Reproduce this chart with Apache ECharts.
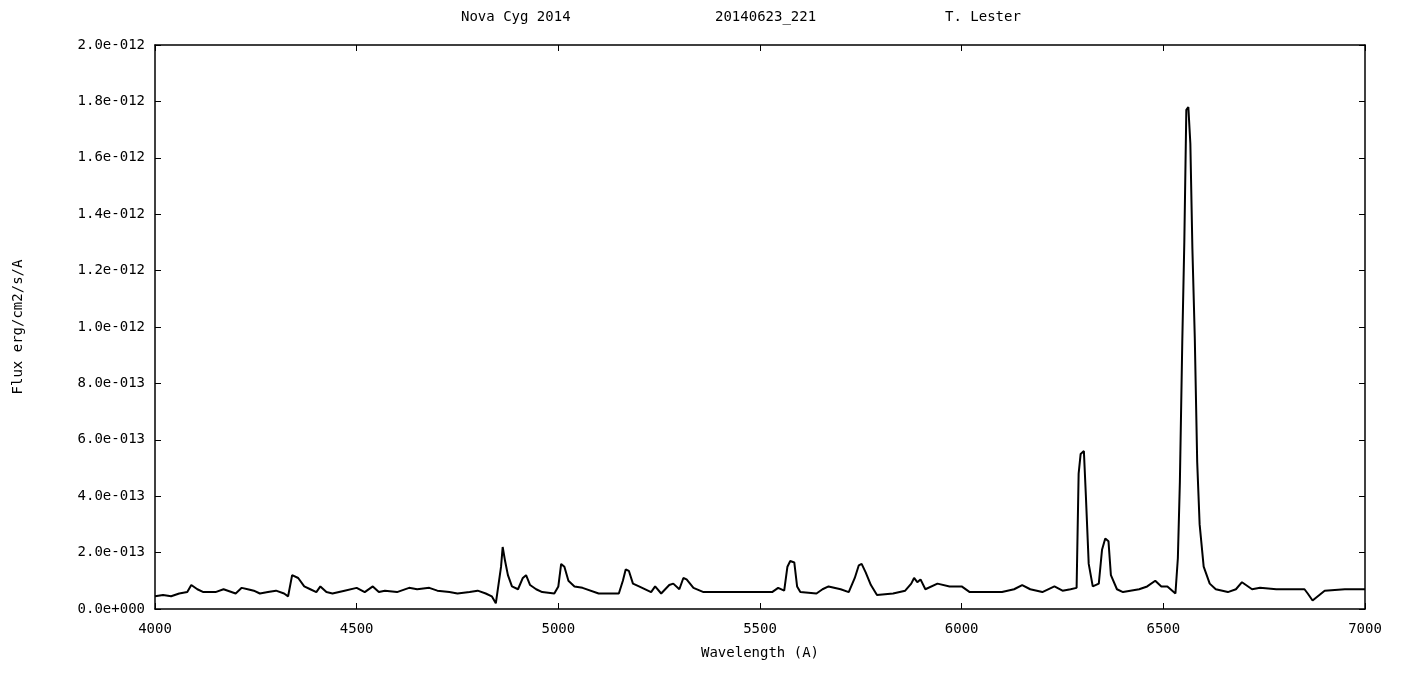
<!DOCTYPE html>
<html>
<head>
<meta charset="utf-8">
<script src="https://cdn.jsdelivr.net/npm/echarts@6/dist/echarts.min.js"></script>
<style>html,body{margin:0;background:#fff}#c{width:1411px;height:686px}</style>
</head>
<body>
<div id="c"></div>
<script>
// wavelength (A) and flux in units of 1e-13 erg/cm2/s/A
const wavelength = [4000,4020,4040,4060,4080,4090,4105,4120,4150,4170,4200,4215,4230,4245,4260,4280,4300,4320,4330,4340,4355,4370,4385,4400,4410,4425,4440,4470,4500,4520,4540,4555,4570,4600,4630,4650,4680,4700,4730,4750,4780,4800,4820,4835,4845,4852,4858,4862,4868,4875,4885,4900,4912,4920,4930,4945,4960,4990,5000,5007,5015,5025,5040,5060,5100,5150,5160,5167,5175,5185,5200,5230,5240,5255,5275,5285,5300,5310,5318,5335,5360,5400,5450,5500,5530,5545,5560,5568,5575,5585,5592,5600,5640,5655,5670,5700,5720,5735,5745,5752,5762,5775,5790,5830,5860,5875,5882,5890,5898,5910,5940,5970,6000,6020,6060,6100,6130,6150,6170,6200,6230,6250,6270,6285,6290,6295,6303,6308,6315,6325,6340,6348,6356,6364,6370,6385,6400,6440,6460,6480,6495,6510,6530,6536,6541,6547,6552,6557,6562,6567,6572,6578,6584,6590,6600,6615,6630,6660,6680,6695,6720,6740,6780,6820,6850,6858,6870,6900,6950,7000];
const flux = [0.45,0.5,0.45,0.55,0.6,0.85,0.7,0.6,0.6,0.7,0.55,0.75,0.7,0.65,0.55,0.6,0.65,0.55,0.45,1.2,1.1,0.8,0.7,0.6,0.8,0.6,0.55,0.65,0.75,0.6,0.8,0.6,0.65,0.6,0.75,0.7,0.75,0.65,0.6,0.55,0.6,0.65,0.55,0.45,0.2,0.9,1.5,2.2,1.7,1.2,0.8,0.7,1.1,1.2,0.85,0.7,0.6,0.55,0.8,1.6,1.5,1.0,0.8,0.75,0.55,0.55,1.0,1.4,1.35,0.9,0.8,0.6,0.8,0.55,0.85,0.9,0.7,1.1,1.05,0.75,0.6,0.6,0.6,0.6,0.6,0.75,0.65,1.5,1.7,1.65,0.8,0.6,0.55,0.7,0.8,0.7,0.6,1.1,1.55,1.6,1.3,0.85,0.5,0.55,0.65,0.9,1.1,0.95,1.05,0.7,0.9,0.8,0.8,0.6,0.6,0.6,0.7,0.85,0.7,0.6,0.8,0.65,0.7,0.75,4.8,5.5,5.6,4.0,1.6,0.8,0.9,2.1,2.5,2.4,1.2,0.7,0.6,0.7,0.8,1.0,0.8,0.8,0.55,1.8,4.5,9.5,13.0,17.7,17.8,16.5,12.8,9.6,5.2,3.0,1.5,0.9,0.7,0.6,0.7,0.95,0.7,0.75,0.7,0.7,0.7,0.55,0.3,0.65,0.7,0.7,0.7];

const xTicks = [4000,4500,5000,5500,6000,6500,7000];
const yTicks = [0,2e-13,4e-13,6e-13,8e-13,1e-12,1.2e-12,1.4e-12,1.6e-12,1.8e-12,2e-12];
const titleParts = ['Nova Cyg 2014', '20140623_221', 'T. Lester'];

const points = wavelength.map((w, i) => [w, flux[i] * 1e-13]);
const FONT = 'DejaVu Sans Mono';

function fmtExp(v) {
  if (Math.abs(v) < 1e-20) return '0.0e+000';
  const e = Math.floor(Math.log10(Math.abs(v)) + 1e-9);
  const m = v / Math.pow(10, e);
  const sign = e < 0 ? '-' : '+';
  return m.toFixed(1) + 'e' + sign + String(Math.abs(e)).padStart(3, '0');
}

const chart = echarts.init(document.getElementById('c'));
const axisLine = { show: true, onZero: false, lineStyle: { color: '#000', width: 1.5 } };
const tickStyle = { show: true, inside: true, length: 6, lineStyle: { color: '#000' } };
const xCommon = { type: 'value', min: 4000, max: 7000, interval: 500, axisLine, axisTick: tickStyle, splitLine: { show: false } };
const yCommon = { type: 'value', min: 0, max: 2e-12, interval: 2e-13, axisLine, axisTick: tickStyle, splitLine: { show: false } };
const labelStyle = { fontFamily: FONT, fontSize: 14, color: '#000' };

chart.setOption({
  animation: false,
  backgroundColor: '#fff',
  grid: { left: 155, right: 46, top: 45, bottom: 77 },
  graphic: [
    { type: 'text', left: 461, top: 10, style: { text: titleParts[0], font: '14px ' + FONT, fill: '#000' } },
    { type: 'text', left: 715, top: 10, style: { text: titleParts[1], font: '14px ' + FONT, fill: '#000' } },
    { type: 'text', left: 945, top: 10, style: { text: titleParts[2], font: '14px ' + FONT, fill: '#000' } }
  ],
  xAxis: [
    Object.assign({}, xCommon, {
      position: 'bottom', name: 'Wavelength (A)', nameLocation: 'middle', nameGap: 37,
      nameTextStyle: labelStyle,
      axisLabel: Object.assign({ margin: 13, formatter: v => String(v) }, labelStyle)
    }),
    Object.assign({}, xCommon, { position: 'top', axisLabel: { show: false } })
  ],
  yAxis: [
    Object.assign({}, yCommon, {
      position: 'left', name: 'Flux erg/cm2/s/A', nameLocation: 'middle', nameGap: 130,
      nameTextStyle: labelStyle,
      axisLabel: Object.assign({ margin: 10, formatter: fmtExp }, labelStyle)
    }),
    Object.assign({}, yCommon, { position: 'right', axisLabel: { show: false } })
  ],
  series: [{
    type: 'line', data: points, showSymbol: false,
    lineStyle: { color: '#000', width: 2 }
  }]
});
</script>
</body>
</html>
